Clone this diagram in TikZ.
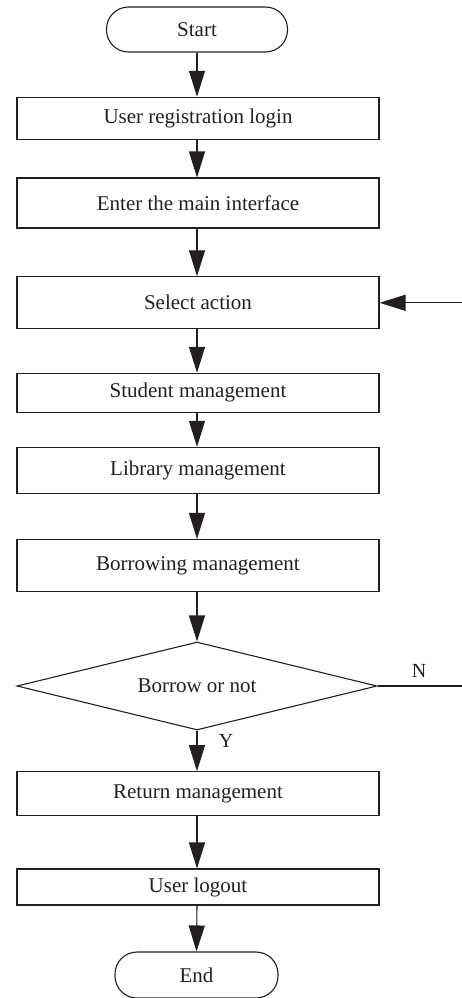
\documentclass[tikz,border=0pt]{standalone}
\usepackage{fontspec}
\setmainfont{Liberation Serif}
\usetikzlibrary{arrows.meta,shapes.geometric}
\definecolor{ink}{HTML}{231F20}
\begin{document}
\begin{tikzpicture}[x=1pt,y=-1pt,
  every node/.style={font=\fontsize{21}{24}\selectfont, text=ink},
  procbox/.style={draw=ink, line width=1.1pt, rectangle, minimum width=362pt, inner sep=0pt},
  termbox/.style={draw=ink, line width=1.1pt, rectangle, rounded corners=22pt, inner sep=0pt},
  decide/.style={draw=ink, line width=1.1pt, diamond, aspect=4.09, minimum width=360pt, minimum height=88pt, inner sep=0pt},
  flow/.style={draw=ink, line width=1.1pt, -{Triangle[length=26pt,width=16pt]}},
  plain/.style={draw=ink, line width=1.1pt},
  lbl/.style={font=\fontsize{20}{22}\selectfont}
]
\useasboundingbox (0,0) rectangle (462,998);

\node[termbox, minimum width=181pt, minimum height=45pt] (start) at (197,29.5) {Start};
\node[procbox, minimum height=42pt] (reg) at (198,118.3) {User registration login};
\node[procbox, minimum height=50pt] (main) at (198,203) {Enter the main interface};
\node[procbox, minimum height=52pt] (sel) at (198,302.8) {Select action};
\node[procbox, minimum height=39pt] (stu) at (198,392.8) {Student management};
\node[procbox, minimum height=46pt] (lib) at (198,470.3) {Library management};
\node[procbox, minimum height=52pt] (bor) at (198,565.5) {Borrowing management};
\node[decide] (q) at (197,686) {Borrow or not};
\node[procbox, minimum height=44pt] (ret) at (198,793.7) {Return management};
\node[procbox, minimum height=36pt] (out) at (198,887) {User logout};
\node[termbox, minimum width=163pt, minimum height=46pt] (end) at (196.5,975) {End};

\coordinate (back) at (462,302.8);
\coordinate (nend) at (462,686);

\draw[flow] (start) -- (start |- reg.north);
\draw[flow] (reg.south -| start) -- (start |- main.north);
\draw[flow] (main.south -| start) -- (start |- sel.north);
\draw[flow] (sel.south -| start) -- (start |- stu.north);
\draw[flow] (stu.south -| start) -- (start |- lib.north);
\draw[flow] (lib.south -| start) -- (start |- bor.north);
\draw[flow] (bor.south -| start) -- (q.north);
\draw[flow] (q.south) -- (start |- ret.north);
\draw[flow] (ret.south -| start) -- (start |- out.north);
\draw[flow] (out.south -| start) -- (end.north);
\draw[flow] (back) -- (sel.east);
\draw[plain] (q.east) -- (nend);

\node[lbl] (ylab) at (226,741) {Y};
\node[lbl] (nlab) at (419,671) {N};
\end{tikzpicture}
\end{document}
